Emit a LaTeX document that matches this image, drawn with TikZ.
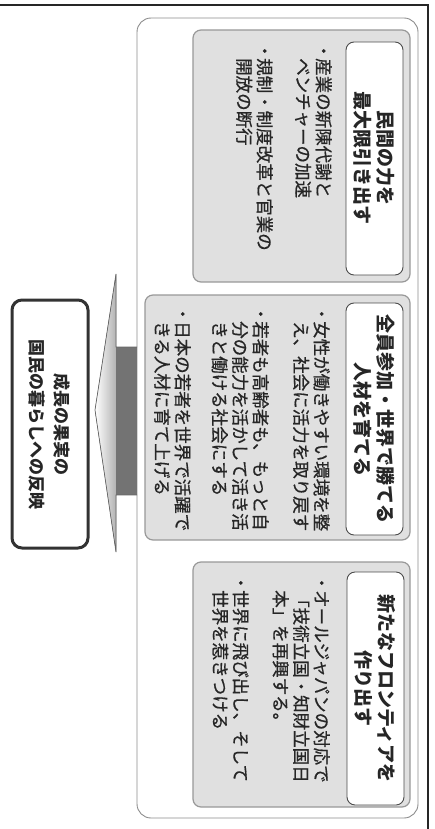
\documentclass[tikz,border=0pt]{standalone}
\usepackage{fontspec}
\newfontfamily\jp{Noto Sans CJK JP}
\newfontfamily\jpm{Noto Sans CJK JP}[FakeBold=0.7]
\newcommand\jbul{\makebox[10pt][l]{\hspace{-6pt}・}}
\newcommand\jind{\hspace*{10pt}}
\begin{document}
\begin{tikzpicture}[x=1pt,y=-1pt,
  outerbox/.style={draw=black!45, line width=0.9pt, rounded corners=14pt, fill=white, minimum width=281pt, minimum height=800pt, inner sep=0pt},
  panel/.style={draw=black!40, line width=1.2pt, rounded corners=8pt, fill=black!12, inner sep=0pt},
  titlebox/.style={draw=black!70, line width=0.9pt, rounded corners=8pt, fill=white, rotate=-90, minimum height=57pt, align=center, inner sep=0pt, font=\jp\bfseries\fontsize{19}{23}\selectfont, text=black!85},
  bullettext/.style={rotate=-90, anchor=north west, align=left, inner sep=0pt, font=\jpm\fontsize{17.5}{20.5}\selectfont, text=black!85},
  resultbox/.style={draw=black!80, line width=3pt, rounded corners=10pt, fill=white, rotate=-90, minimum width=248pt, minimum height=76pt, align=center, inner sep=0pt, font=\jp\bfseries\fontsize{17}{25}\selectfont, text=black!85}
]
\useasboundingbox (0,0) rectangle (435,829);
% scan frame
\draw[line width=1.6pt, black!85] (0,5) -- (428,5) -- (428,829);
% outer container
\node[outerbox] (outer) at (277.5,418) {};
% block arrow
\coordinate (st) at (137,347);
\coordinate (sb) at (137,495);
\coordinate (tip) at (95,410);
\fill[left color=white, right color=black!30] (116,274) -- (tip) -- (116,552) -- cycle;
\fill[black!55] (116,347) rectangle (sb);
\draw[black!60, line width=0.7pt] (st) -- (116,347) -- (116,274) -- (tip) -- (116,552) -- (116,495) -- (sb);
% result box
\node[resultbox] (result) at (50,424) {成長の果実の\\国民の暮らしへの反映};
% panels
\node[panel, minimum width=217pt, minimum height=252pt] (p1) at (301.5,156) {};
\node[panel, minimum width=265pt, minimum height=245pt] (p2) at (277.5,417.5) {};
\node[panel, minimum width=217pt, minimum height=245pt] (p3) at (301.5,684.5) {};
% titles
\node[titlebox, minimum width=233pt] (t1) at (374.5,158.5) {民間の力を\\最大限引き出す};
\node[titlebox, minimum width=232pt] (t2) at (374.5,419) {全員参加・世界で勝てる\\人材を育てる};
\node[titlebox, minimum width=233pt] (t3) at (375.5,688.5) {新たなフロンティアを\\作り出す};
% bullets
\node[bullettext] (p1b1) at (332,48) {\jbul 産業の新陳代謝と\\\jind ベンチャーの加速};
\node[bullettext] (p1b2) at (273,48) {\jbul 規制・制度改革と官業の\\\jind 開放の断行};
\node[bullettext] (p2b1) at (330,311) {\jbul 女性が働きやすい環境を整\\\jind え、社会に活力を取り戻す};
\node[bullettext] (p2b2) at (269,311) {\jbul 若者も高齢者も、もっと自\\\jind 分の能力を活かして活き活\\\jind きと働ける社会にする};
\node[bullettext] (p2b3) at (191,311) {\jbul 日本の若者を世界で活躍で\\\jind きる人材に育て上げる};
\node[bullettext] (p3b1) at (330,580) {\jbul オールジャパンの対応で\\\jind 「技術立国・知財立国日\\\jind 本」を再興する。};
\node[bullettext] (p3b2) at (249,580) {\jbul 世界に飛び出し、そして\\\jind 世界を惹きつける};
\end{tikzpicture}
\end{document}
